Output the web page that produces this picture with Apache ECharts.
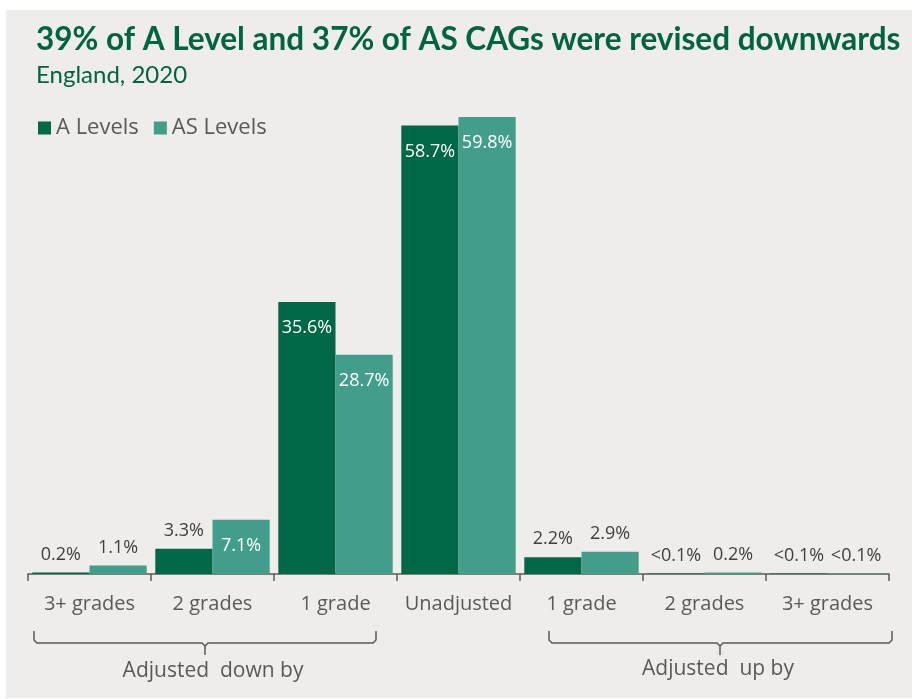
<!DOCTYPE html>
<html>
<head>
<meta charset="utf-8">
<script src="https://cdn.jsdelivr.net/npm/echarts@6/dist/echarts.min.js"></script>
<style>
  html, body { margin: 0; padding: 0; background: #ffffff; }
  #chart { width: 912px; height: 699px; }
</style>
</head>
<body>
<div id="chart"></div>
<script>
// Categories along the x axis (grade adjustment bands)
const categories = ['3+ grades', '2 grades', '1 grade', 'Unadjusted', '1 grade', '2 grades', '3+ grades'];
// Share of CAGs in each band, percent ("<0.1%" entries held as 0.05)
const aLevels  = [0.2, 3.3, 35.6, 58.7, 2.2, 0.05, 0.05];
const asLevels = [1.1, 7.1, 28.7, 59.8, 2.9, 0.2, 0.05];
const seriesNames = ['A Levels', 'AS Levels'];
const groupLabels = ['Adjusted  down by', 'Adjusted  up by'];

const DARK = '#006747';
const LIGHT = '#429E8A';
const GREY = '#595959';
const BODY_FONT = 'Open Sans';
const HEAD_FONT = 'Lato';

function fmt(v) {
  return v < 0.1 ? '<0.1%' : v.toFixed(1) + '%';
}

const insideLabel = {
  show: true, position: 'insideTop', distance: 17,
  color: '#ffffff', fontFamily: BODY_FONT, fontSize: 18,
  formatter: p => fmt(p.value)
};
const outsideLabel = {
  show: true, position: 'top', distance: 9,
  color: '#404040', fontFamily: BODY_FONT, fontSize: 18,
  formatter: p => fmt(p.value)
};

function toData(vals) {
  return vals.map(v => ({ value: v, label: v >= 7 ? insideLabel : outsideLabel }));
}

// Bracket grouping several bands: two arms meeting at a downward tip
function bracket(x1, x2, xm, yTop, yMid, yTip) {
  const r = 3;
  const line = { stroke: GREY, lineWidth: 1.5, fill: null };
  return [
    {
      type: 'polyline', silent: true,
      shape: { points: [[x1, yTop], [x1, yMid - r], [x1 + r, yMid], [xm - r, yMid], [xm, yMid + r], [xm, yTip]] },
      style: line
    },
    {
      type: 'polyline', silent: true,
      shape: { points: [[xm, yMid + r], [xm + r, yMid], [x2 - r, yMid], [x2, yMid - r], [x2, yTop]] },
      style: line
    }
  ];
}

const chart = echarts.init(document.getElementById('chart'), null, { renderer: 'canvas' });

chart.setOption({
  backgroundColor: '#ffffff',
  animation: false,
  title: {
    text: '39% of A Level and 37% of AS CAGs were revised downwards',
    subtext: 'England, 2020',
    left: 31,
    top: 19,
    itemGap: 7,
    textStyle: { color: '#00643F', fontFamily: HEAD_FONT, fontWeight: 'bold', fontSize: 31.5 },
    subtextStyle: { color: '#00643F', fontFamily: HEAD_FONT, fontSize: 24 }
  },
  legend: {
    left: 33,
    top: 112,
    icon: 'rect',
    itemWidth: 13,
    itemHeight: 13,
    itemGap: 15,
    textStyle: { color: GREY, fontFamily: BODY_FONT, fontSize: 22 },
    data: seriesNames
  },
  grid: { left: 28, right: 23, top: 115.5, bottom: 125, containLabel: false },
  xAxis: {
    type: 'category',
    data: categories,
    axisLine: { lineStyle: { color: GREY, width: 1.5 } },
    axisTick: { show: true, length: 7, lineStyle: { color: GREY, width: 1.5 } },
    axisLabel: { color: GREY, fontFamily: BODY_FONT, fontSize: 20, margin: 20, interval: 0 }
  },
  yAxis: {
    type: 'value', min: 0, max: 60, show: false,
    splitLine: { show: false }
  },
  series: [
    {
      name: seriesNames[0], type: 'bar', data: toData(aLevels),
      itemStyle: { color: DARK }, barGap: '0%', barCategoryGap: '7%'
    },
    {
      name: seriesNames[1], type: 'bar', data: toData(asLevels),
      itemStyle: { color: LIGHT }, barGap: '0%', barCategoryGap: '7%'
    }
  ],
  graphic: [
    {
      type: 'rect', z: -100, silent: true,
      shape: { x: 6, y: 10, width: 906, height: 688 },
      style: { fill: '#EEEDEB' }
    },
    ...bracket(34, 376, 205, 631, 643, 655),
    ...bracket(549, 892, 720, 631, 643, 655),
    {
      type: 'text', silent: true,
      x: 213, y: 671,
      style: { text: groupLabels[0], fill: GREY, fontFamily: BODY_FONT, fontSize: 21,
               textAlign: 'center', textVerticalAlign: 'middle' }
    },
    {
      type: 'text', silent: true,
      x: 718, y: 669,
      style: { text: groupLabels[1], fill: GREY, fontFamily: BODY_FONT, fontSize: 21,
               textAlign: 'center', textVerticalAlign: 'middle' }
    }
  ]
});
</script>
</body>
</html>
